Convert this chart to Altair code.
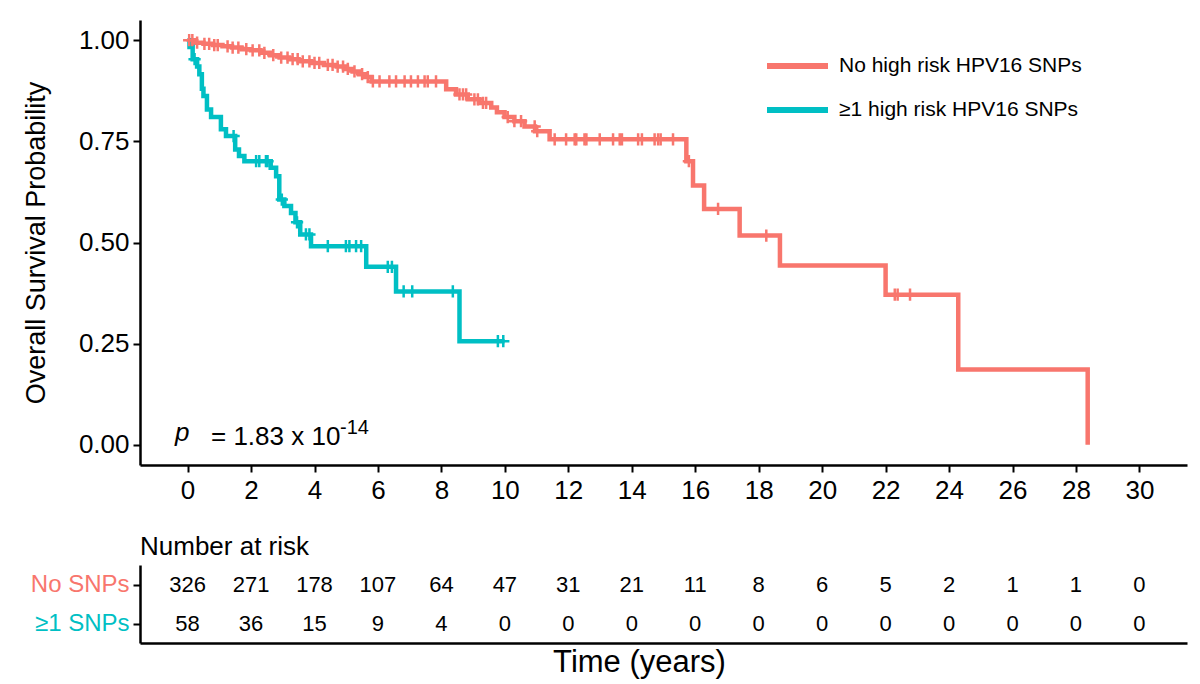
import altair as alt
import numpy as np
import pandas as pd

RED = "#F8766D"
TEAL = "#00BFC4"
FONT = "Liberation Sans"

groups = ["No high risk HPV16 SNPs", "≥1 high risk HPV16 SNPs"]

# Kaplan-Meier step points (time in years, survival after the step)
no_snp_time = [0, 0.2, 0.5, 0.8, 1.1, 1.4, 1.7, 2.0, 2.3, 2.6, 2.9, 3.2, 3.5, 3.9, 4.3,
               4.7, 5.0, 5.2, 5.4, 5.6, 5.8, 8.15, 8.46, 8.83, 9.2, 9.57, 9.75, 9.99,
               10.3, 10.62, 10.95, 11.41, 15.72, 15.93, 16.28, 17.4, 18.67, 22.0, 24.29, 28.37]
no_snp_surv = [1.0, 0.994, 0.991, 0.988, 0.985, 0.982, 0.978, 0.975, 0.969, 0.963, 0.957,
               0.953, 0.948, 0.944, 0.939, 0.935, 0.929, 0.923, 0.916, 0.909, 0.898, 0.879,
               0.866, 0.854, 0.845, 0.834, 0.822, 0.81, 0.80, 0.787, 0.775, 0.755, 0.701,
               0.641, 0.583, 0.517, 0.443, 0.371, 0.186, 0.0]
no_snp_last = 28.37

snp_time = [0, 0.06, 0.16, 0.30, 0.37, 0.45, 0.50, 0.61, 0.74, 1.05, 1.21, 1.50, 1.62,
            1.79, 2.62, 2.79, 2.89, 3.05, 3.26, 3.40, 3.55, 3.89, 5.63, 6.57, 8.57]
snp_surv = [1.0, 0.983, 0.953, 0.935, 0.916, 0.88, 0.862, 0.829, 0.81, 0.78, 0.763, 0.73,
            0.714, 0.701, 0.685, 0.664, 0.606, 0.59, 0.573, 0.55, 0.52, 0.491, 0.44, 0.379,
            0.256]
snp_last = 9.99

# Censoring times
no_snp_censor = [0.05, 0.15, 0.3, 0.53, 0.68, 0.84, 0.95, 1.26, 1.42, 1.6, 1.85, 2.05, 2.26,
                 2.42, 2.7, 2.95, 3.15, 3.31, 3.47, 3.63, 3.84, 4.0, 4.15, 4.42, 4.57, 4.73,
                 4.9, 5.05, 5.26, 5.5, 5.68, 5.84, 6.05, 6.36, 6.57, 6.84, 7.04, 7.26, 7.47,
                 7.57, 7.83, 8.57, 8.68, 8.78, 9.04, 9.15, 9.31, 9.41, 10.09, 10.3, 10.51,
                 10.94, 11.02, 11.57, 11.93, 12.2, 12.25, 12.51, 12.57, 12.99, 13.41, 13.62,
                 13.69, 14.2, 14.32, 14.72, 14.83, 14.91, 15.3, 15.8, 16.72, 18.24, 22.29,
                 22.38, 22.77]
snp_censor = [0.22, 1.45, 2.16, 2.26, 2.47, 2.52, 2.97, 3.45, 3.73, 3.84, 4.42, 4.99, 5.10,
              5.31, 5.47, 6.31, 6.44, 6.81, 7.08, 8.36, 9.78, 9.95]

# Number at risk table
risk_times = list(range(0, 31, 2))
risk_rows = ["No SNPs", "≥1 SNPs"]
risk_no_snp = [326, 271, 178, 107, 64, 47, 31, 21, 11, 8, 6, 5, 2, 1, 1, 0]
risk_snp = [58, 36, 15, 9, 4, 0, 0, 0, 0, 0, 0, 0, 0, 0, 0, 0]

p_main = "= 1.83 x 10"
p_exp = "-14"

# ---- tables ----
curves, censors = [], []
series = [(groups[0], no_snp_time, no_snp_surv, no_snp_last, no_snp_censor),
          (groups[1], snp_time, snp_surv, snp_last, snp_censor)]
for g, t, s, last, cens in series:
    for ti, si in zip(t, s):
        curves.append({"group": g, "time": ti, "surv": si})
    if last > t[-1]:
        curves.append({"group": g, "time": last, "surv": s[-1]})
    for c in cens:
        i = int(np.searchsorted(t, c, side="right")) - 1
        censors.append({"group": g, "time": c, "surv": s[i]})
curve_df = pd.DataFrame(curves)
censor_df = pd.DataFrame(censors)

risk_df = pd.DataFrame(
    [{"row": risk_rows[0], "time": tm, "n": n} for tm, n in zip(risk_times, risk_no_snp)]
    + [{"row": risk_rows[1], "time": tm, "n": n} for tm, n in zip(risk_times, risk_snp)]
)

W, H = 1047, 445
x_scale = alt.Scale(domain=[-1.5, 31.5], nice=False, zero=False)
y_scale = alt.Scale(domain=[-0.05, 1.05], nice=False, zero=False)
color = alt.Color("group:N", scale=alt.Scale(domain=groups, range=[RED, TEAL]), legend=None)

x_enc = alt.X("time:Q", scale=x_scale,
              axis=alt.Axis(values=risk_times, title=None, labelFontSize=26, labelPadding=5))
y_enc = alt.Y("surv:Q", scale=y_scale,
              axis=alt.Axis(values=[0, 0.25, 0.5, 0.75, 1.0], format=".2f",
                            title="Overall Survival Probability", titleFontSize=27,
                            titleFontWeight="normal", labelFontSize=26, titlePadding=28,
                            labelPadding=4))

lines = alt.Chart(curve_df).mark_line(interpolate="step-after", strokeWidth=4.5).encode(
    x=x_enc, y=y_enc, color=color, detail="group:N")

ticks = alt.Chart(censor_df).mark_point(
    shape="M-1,0L1,0M0,-1L0,1", filled=False, size=150, strokeWidth=2.5, opacity=1
).encode(x="time:Q", y="surv:Q", color=color)

p_df = pd.DataFrame({"a": ["p"], "b": [p_main], "c": [p_exp]})
p_letter = alt.Chart(p_df).mark_text(align="left", baseline="alphabetic", fontSize=26,
                                     fontStyle="italic").encode(
    text="a:N", x=alt.value(35), y=alt.value(421))
p_body = alt.Chart(p_df).mark_text(align="left", baseline="alphabetic", fontSize=26).encode(
    text="b:N", x=alt.value(71), y=alt.value(425))
p_sup = alt.Chart(p_df).mark_text(align="left", baseline="alphabetic", fontSize=20).encode(
    text="c:N", x=alt.value(200), y=alt.value(414))

legend_layers = []
for i, (g, col) in enumerate(zip(groups, [RED, TEAL])):
    ld = pd.DataFrame({"label": [g]})
    yy = 46 + 44 * i
    legend_layers.append(alt.Chart(ld).mark_rule(strokeWidth=6, strokeCap="butt").encode(
        x=alt.value(627), x2=alt.value(688), y=alt.value(yy), color=alt.value(col)))
    legend_layers.append(alt.Chart(ld).mark_text(align="left", baseline="middle",
                                                 fontSize=21).encode(
        text="label:N", x=alt.value(699), y=alt.value(yy)))

km = alt.layer(lines, ticks, p_letter, p_body, p_sup, *legend_layers).properties(
    width=W, height=H)

label_color = {"condition": {"test": f"datum.value == '{risk_rows[0]}'", "value": RED},
               "value": TEAL}
table = alt.Chart(risk_df).mark_text(fontSize=22, baseline="middle").encode(
    x=alt.X("time:Q", scale=x_scale,
            axis=alt.Axis(values=risk_times, ticks=False, labels=False,
                          title="Time (years)", titleFontSize=31, titleFontWeight="normal",
                          titlePadding=4, titleX=499)),
    y=alt.Y("row:N", scale=alt.Scale(domain=risk_rows),
            axis=alt.Axis(title=None, labelFontSize=24, labelColor=label_color,
                          labelPadding=4)),
    text="n:Q",
).properties(width=W, height=78,
             title=alt.TitleParams("Number at risk", anchor="start", frame="group",
                                   fontSize=26, fontWeight="normal", offset=5,
                                   color="black"))

chart = alt.vconcat(km, table, spacing=31).properties(
    padding={"left": 22, "top": 20, "right": 5, "bottom": 5}
).configure(font=FONT).configure_view(stroke=None).configure_axis(
    domainColor="black", domainWidth=2.5, tickColor="black", tickWidth=2, tickSize=7,
    labelColor="black", titleColor="black", labelFont=FONT, titleFont=FONT, grid=False
).configure_title(font=FONT)

chart.save("out.html", embed_options={"renderer": "svg", "actions": False})
